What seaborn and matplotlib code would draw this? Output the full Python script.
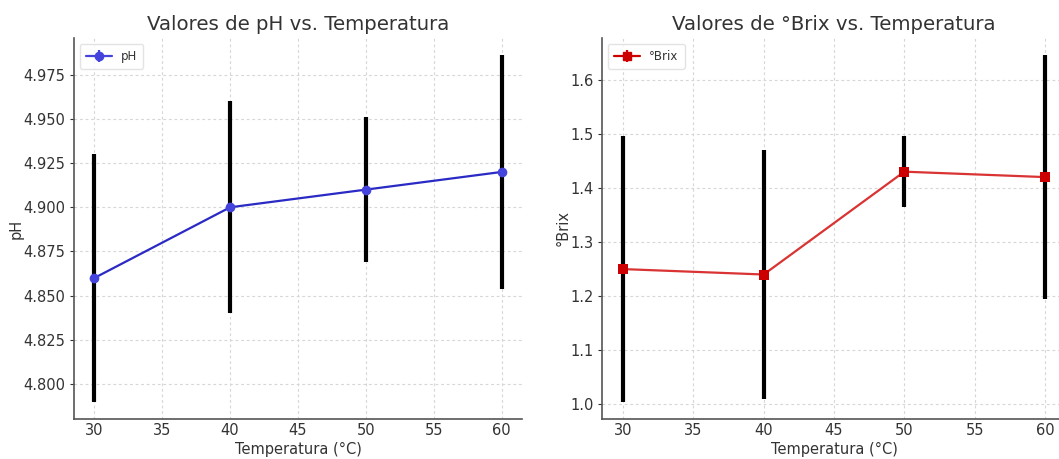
import numpy as np
import matplotlib
matplotlib.use("Agg")
import matplotlib.pyplot as plt
import seaborn as sns

# Mediciones promedio y desviación estándar por temperatura
temperaturas = [30, 40, 50, 60]
ph_medias = [4.86, 4.90, 4.91, 4.92]
ph_desv = [0.070, 0.060, 0.041, 0.066]
brix_medias = [1.25, 1.24, 1.43, 1.42]
brix_desv = [0.245, 0.230, 0.065, 0.225]
xticks = [30, 35, 40, 45, 50, 55, 60]

sns.set_style("whitegrid", {
    "grid.linestyle": "--",
    "grid.color": "#d9d9d9",
    "axes.edgecolor": "#555555",
    "text.color": "#333333",
    "axes.labelcolor": "#333333",
    "xtick.color": "#333333",
    "ytick.color": "#333333",
    "ytick.left": True,
})
plt.rcParams["font.family"] = ["DejaVu Sans"]

fig = plt.figure(figsize=(10.59, 4.59), dpi=100)
ax1 = fig.add_axes([74 / 1059, 40 / 459, 448 / 1059, 381 / 459])
ax2 = fig.add_axes([602 / 1059, 40 / 459, 464 / 1059, 381 / 459])


def panel(ax, medias, desv, color_linea, color_marca, marker, etiqueta,
          titulo, fmt_y):
    # barras de error en negro, debajo de la línea
    ax.errorbar(temperaturas, medias, yerr=desv, fmt="none",
                ecolor="black", elinewidth=3, capsize=0, zorder=2)
    sns.lineplot(x=temperaturas, y=medias, ax=ax, color=color_linea,
                 marker=marker, markersize=7, markeredgewidth=0,
                 markerfacecolor=color_marca, linewidth=1.6, zorder=3)
    # entrada de leyenda con el estilo de errorbar
    proxy = ax.errorbar([np.nan], [np.nan], yerr=[np.nan], fmt="-" + marker,
                        color=color_marca, markersize=6, linewidth=1.6,
                        label=etiqueta)
    ax.legend(handles=[proxy], loc="upper left", fontsize=8.5, frameon=True,
              edgecolor="#dddddd", handlelength=2.2, borderpad=0.5)
    ax.set_title(titulo, fontsize=14.2, color="#333333", pad=6)
    ax.set_xlabel("Temperatura (°C)", fontsize=10.5, labelpad=3)
    ax.set_ylabel(etiqueta, fontsize=10.5, labelpad=0)
    ax.set_xticks(xticks)
    ax.tick_params(axis="both", labelsize=10.5, length=3, width=0.8, pad=3)
    ax.tick_params(axis="x", length=0)
    ax.yaxis.set_major_formatter(plt.FormatStrFormatter(fmt_y))
    for s in ("top", "right"):
        ax.spines[s].set_visible(False)
    for s in ("left", "bottom"):
        ax.spines[s].set_linewidth(1.2)
    ax.grid(True, linestyle=(0, (2.5, 2.5)), color="#d6d6d6", linewidth=0.8)


panel(ax1, ph_medias, ph_desv, "#2a2ac4", "#4444dd", "o", "pH",
      "Valores de pH vs. Temperatura", "%.3f")
panel(ax2, brix_medias, brix_desv, "#d93333", "#cc0000", "s", "°Brix",
      "Valores de °Brix vs. Temperatura", "%.1f")

ax1.set_yticks([4.800, 4.825, 4.850, 4.875, 4.900, 4.925, 4.950, 4.975])
ax2.set_yticks([1.0, 1.1, 1.2, 1.3, 1.4, 1.5, 1.6])

fig.savefig("out.png", dpi=100)
